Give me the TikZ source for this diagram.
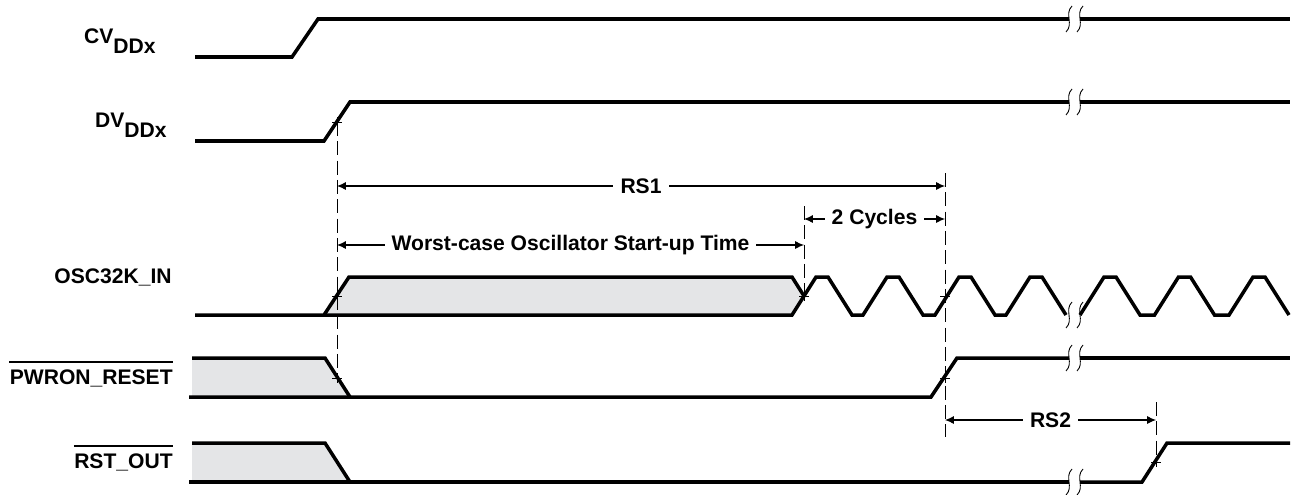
\documentclass[tikz,border=0pt]{standalone}
\usepackage{fontspec}
\setmainfont{Liberation Sans}
\usetikzlibrary{arrows.meta}
\definecolor{unknown}{RGB}{228,229,231}
\newcommand{\gapmark}[2]{\draw[line width=0.5pt] ({#1+3},{#2-13}) .. controls ({#1-5},{#2-5}) and ({#1+5},{#2+5}) .. ({#1-3},{#2+13});}
\newcommand{\crossat}[2]{\draw[line width=0.5pt] ({#1-5},#2) -- ({#1+5},#2) (#1,{#2-5}) -- (#1,{#2+5});}

\begin{document}
\begin{tikzpicture}[x=0.02cm,y=-0.02cm,
    sig/.style={line width=2pt,line join=miter},
    guide/.style={line width=0.5pt,dash pattern=on 8pt off 3pt},
    dimline/.style={line width=0.6pt,{Latex[length=5pt,width=4.5pt]}-{Latex[length=5pt,width=4.5pt]}},
    lbl/.style={anchor=east,inner sep=0pt,font=\fontsize{12}{14}\selectfont\bfseries},
    dimlbl/.style={fill=white,inner xsep=4pt,inner ysep=1pt,font=\fontsize{12}{14}\selectfont\bfseries}]
  \useasboundingbox (0,0) rectangle (1293,494);

  \node[lbl] (cvdd) at (156,41) {CV\raisebox{-0.45em}{DDx}};
  \node[lbl] (dvdd) at (167,125) {DV\raisebox{-0.45em}{DDx}};
  \node[lbl] (osc) at (172,277) {OSC32K\_IN};
  \node[lbl] (pwron) at (173,378) {PWRON\_RESET};
  \node[lbl] (rstout) at (173,462) {RST\_OUT};
  \draw[line width=0.8pt] ([yshift=4pt]pwron.north west) -- ([yshift=4pt]pwron.north east);
  \draw[line width=0.8pt] ([yshift=4pt]rstout.north west) -- ([yshift=4pt]rstout.north east);

  \draw[sig] (195,57) -- (292,57) -- (318,19) -- (1069,19);
  \draw[sig] (1080,19) -- (1290,19);
  \gapmark{1069}{19} \gapmark{1080}{19}

  \draw[sig] (195,141) -- (324,141) -- (350,102) -- (1069,102);
  \draw[sig] (1080,102) -- (1290,102);
  \gapmark{1069}{102} \gapmark{1080}{102}

  \fill[unknown] (324,315) -- (349,277) -- (792,277) -- (804,296) -- (792,315) -- cycle;
  \draw[sig] (195,315) -- (324,315) -- (349,277) -- (792,277) -- (804,296);
  \draw[sig] (324,315) foreach \t in {816,887,959,1030}{ -- ({\t-24},315) -- (\t,277) -- ({\t+12},277) -- ({\t+36},315)};
  \draw[sig] (1080,315) foreach \t in {1104,1178.5,1253}{ -- ({\t-24},315) -- (\t,277) -- ({\t+12},277) -- ({\t+36},315)};
  \gapmark{1069}{315} \gapmark{1080}{315}

  \fill[unknown] (192,358) -- (325,358) -- (350,397) -- (192,397) -- cycle;
  \draw[sig] (192,358) -- (325,358) -- (350,397);
  \draw[sig] (189,397) -- (931,397) -- (957,358) -- (1069,358);
  \draw[sig] (1080,358) -- (1290,358);
  \gapmark{1069}{358} \gapmark{1080}{358}

  \fill[unknown] (192,443) -- (325,443) -- (350,482) -- (192,482) -- cycle;
  \draw[sig] (192,443) -- (325,443) -- (350,482);
  \draw[sig] (189,482) -- (1069,482);
  \draw[sig] (1080,482) -- (1142,482) -- (1167,443) -- (1290,443);
  \gapmark{1069}{482} \gapmark{1080}{482}

  \coordinate (dvx) at (337,122);
  \coordinate (pwx) at (337,378);
  \coordinate (oscx) at (804,296);
  \coordinate (oscy) at (945,296);
  \coordinate (pwy) at (945,378);
  \coordinate (rsx) at (1156,462);
  \crossat{337}{122} \crossat{337}{296} \crossat{337}{378}
  \crossat{804}{296} \crossat{945}{296} \crossat{945}{378} \crossat{1156}{462}

  \coordinate (rs1top) at (945,173);
  \coordinate (cyctop) at (804,206);
  \coordinate (rs2bot) at (945,437);
  \coordinate (rs2top) at (1156,402);
  \draw[guide] (dvx) -- (pwx);
  \draw[guide] (cyctop) -- (oscx);
  \draw[guide] (rs1top) -- (rs2bot);
  \draw[guide] (rs2top) -- (rsx);

  \draw[dimline] (dvx |- 0,186) -- node[dimlbl] (rs1) {RS1} (rs1top |- 0,186);
  \draw[dimline] (cyctop |- 0,219) -- node[dimlbl] (cyc) {2 Cycles} (rs1top |- 0,219);
  \draw[dimline] (dvx |- 0,245) -- node[dimlbl] (osct) {Worst-case Oscillator Start-up Time} (cyctop |- 0,245);
  \draw[dimline] (rs2bot |- 0,420) -- node[dimlbl] (rs2) {RS2} (rs2top |- 0,420);
\end{tikzpicture}
\end{document}
